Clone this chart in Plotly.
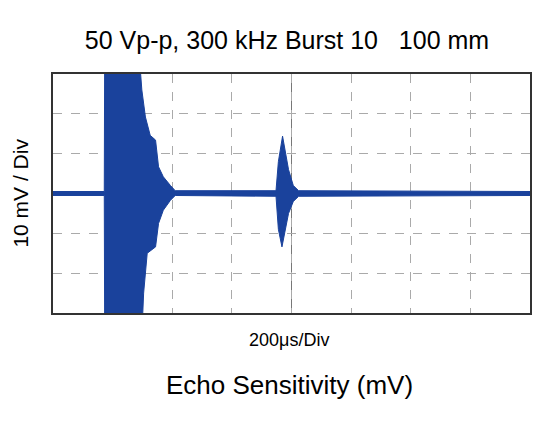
import plotly.graph_objects as go

# envelope of the waveform, in divisions (x: 200us/div, y: 10mV/div)
upper_x = [0, 0.86, 0.866, 1.46, 1.49, 1.55, 1.63, 1.72, 1.77, 1.85, 1.97, 2.05,
           3.74, 3.78, 3.85, 3.95, 4.03, 4.12, 8]
upper_y = [0.05, 0.05, 3.2, 3.2, 2.6, 1.92, 1.46, 1.34, 0.67, 0.42, 0.2, 0.07,
           0.07, 0.8, 1.44, 0.6, 0.2, 0.07, 0.05]
lower_x = [8, 4.12, 4.03, 3.95, 3.84, 3.78, 3.74, 2.05, 1.97, 1.85, 1.77, 1.72,
           1.58, 1.52, 1.5, 0.866, 0.86, 0]
lower_y = [-0.05, -0.07, -0.2, -0.5, -1.34, -0.9, -0.07, -0.05, -0.17, -0.42, -0.75, -1.34,
           -1.5, -2.5, -3.2, -3.2, -0.05, -0.05]

fig = go.Figure()
fig.add_trace(go.Scatter(x=upper_x + lower_x, y=upper_y + lower_y, fill='toself',
                         fillcolor='#1a429c', mode='lines',
                         line=dict(color='#1a429c', width=1), hoverinfo='skip'))

fig.add_shape(type='line', x0=4, x1=4, y0=-3, y1=3, line=dict(color='#777', width=1), layer='below')

fig.update_layout(
    width=558, height=440, showlegend=False,
    margin=dict(l=45, r=36, t=66, b=135),
    plot_bgcolor='white', paper_bgcolor='white',
    font=dict(family='Arial, Liberation Sans', color='black'),
    title=dict(text='50 Vp-p, 300 kHz Burst 10   100 mm', x=0.5, xanchor='center',
               y=0.927, yanchor='middle', font=dict(size=25)),
    annotations=[
        dict(text='200μs/Div', x=0.495, y=-0.113, xref='paper', yref='paper',
             yanchor='middle', showarrow=False, font=dict(size=18)),
        dict(text='Echo Sensitivity (mV)', x=0.495, y=-0.30, xref='paper', yref='paper',
             yanchor='middle', showarrow=False, font=dict(size=26)),
        dict(text='10 mV / Div', x=-0.069, y=0.5, xref='paper', yref='paper',
             xanchor='center', showarrow=False, textangle=-90, font=dict(size=21)),
    ],
)
fig.update_xaxes(range=[0, 8], dtick=1, showticklabels=False, ticks='',
                 showgrid=True, gridcolor='#aaaaaa', griddash='dash', gridwidth=1,
                 showline=True, linecolor='#333', linewidth=2, mirror=True, zeroline=False)
fig.update_yaxes(range=[-3, 3], dtick=1, showticklabels=False, ticks='',
                 showgrid=True, gridcolor='#aaaaaa', griddash='dash', gridwidth=1,
                 showline=True, linecolor='#333', linewidth=2, mirror=True, zeroline=False)

fig.write_html("out.html")
